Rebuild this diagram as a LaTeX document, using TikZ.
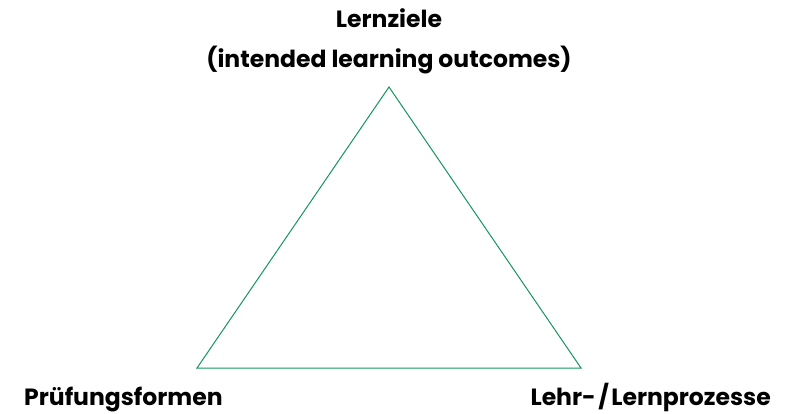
\documentclass[tikz,border=0pt]{standalone}
\usepackage{fontspec}
\setmainfont{Poppins}
\definecolor{edgegreen}{RGB}{20,150,90}
\begin{document}
\begin{tikzpicture}[x=1pt,y=1pt,
  label/.style={font=\fontsize{23.5}{27}\selectfont\bfseries, inner sep=0pt, text=black},
  side/.style={draw=edgegreen, line width=1pt, line join=miter}]
\useasboundingbox (0,0) rectangle (790,413);
\coordinate (top) at (389,326);
\coordinate (left) at (197,45);
\coordinate (right) at (581,45);
\draw[side] (top) -- (left) -- (right) -- cycle;
\node[label, anchor=base] (goal) at (389,385) {Lernziele};
\node[label, anchor=base] (ilo) at (389,345) {(intended learning outcomes)};
\node[label, anchor=base west] (exam) at (24,8) {Prüfungsformen};
\node[label, anchor=base east] (teach) at (771,8) {Lehr-\kern2.5pt/\kern2.5ptLernprozesse};
\end{tikzpicture}
\end{document}
